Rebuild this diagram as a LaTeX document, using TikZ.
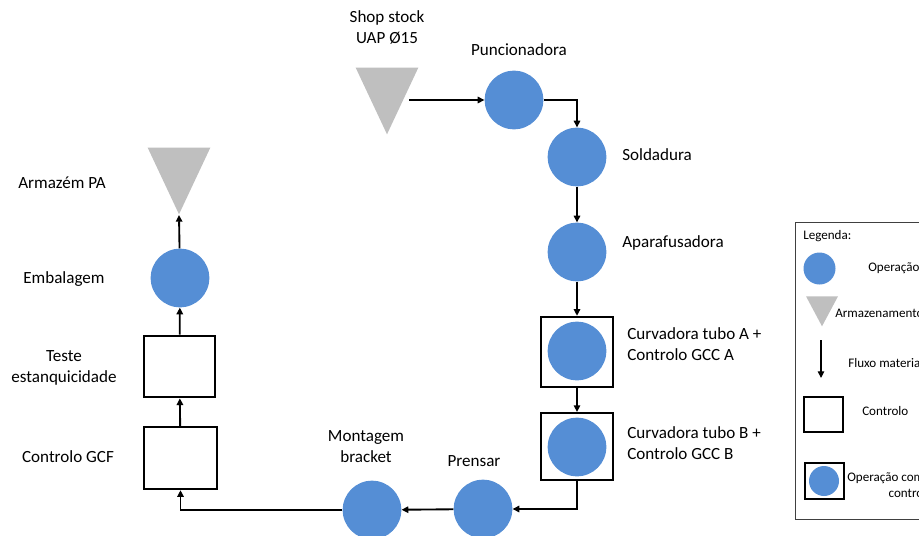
\documentclass[tikz,border=0pt]{standalone}
\usepackage{fontspec}
\setmainfont{Carlito}
\usetikzlibrary{arrows.meta,shapes.geometric}

\definecolor{opblue}{HTML}{558ED5}
\definecolor{stockgray}{HTML}{BFBFBF}

\begin{document}
\begin{tikzpicture}[x=0.75pt, y=-0.75pt,
        opnode/.style={circle, fill=opblue, minimum size=44pt, inner sep=0pt},
        ctrlbox/.style={draw, rectangle, line width=1.8pt, minimum width=54pt, minimum height=47pt, inner sep=0pt},
        stocknode/.style={isosceles triangle, isosceles triangle stretches, shape border rotate=-90, fill=stockgray, minimum width=47pt, minimum height=50pt, inner sep=0pt, anchor=apex},
        arrow/.style={-{Triangle[length=5pt,width=4.8pt]}, line width=1.4pt},
        lbl/.style={font=\fontsize{12.8}{15.75}\selectfont, align=center, inner sep=0pt},
        legtext/.style={font=\fontsize{9.8}{12}\selectfont, align=left, inner sep=0pt, anchor=west}
    ]
    \useasboundingbox (0,0) rectangle (919,535);
    \clip (0,0) rectangle (919,535);

    % --- Top: stock and first operations ---
    \node[stocknode] (shop) at (387,135) {};
    \node[opnode] (punc) at (514,100) {};
    \node[opnode] (sold) at (577,157) {};
    \node[opnode] (apara) at (577,252) {};

    % --- Right: bending with control ---
    \node[ctrlbox, minimum width=54pt, minimum height=52.5pt] (curvA) at (577,352) {};
    \node[opnode] (curvAop) at (577,351) {};
    \node[ctrlbox, minimum width=54pt, minimum height=50pt] (curvB) at (577,446.5) {};
    \node[opnode] (curvBop) at (577,447) {};

    % --- Bottom: pressing and assembly ---
    \node[opnode] (prensar) at (483,509) {};
    \node[opnode] (mont) at (372,510) {};

    % --- Left: controls, packing and warehouse ---
    \node[ctrlbox, minimum width=55pt, minimum height=46.5pt] (gcf) at (180.5,458) {};
    \node[ctrlbox, minimum width=53pt, minimum height=46pt] (teste) at (179.5,366.5) {};
    \node[opnode] (emb) at (180,278) {};
    \node[stocknode] (armazem) at (179,215) {};

    % --- Labels ---
    \node[lbl] (shoplbl) at (387,27) {Shop stock\\UAP Ø15};
    \node[lbl] (punclbl) at (519,50) {Puncionadora};
    \node[lbl, anchor=west] (soldlbl) at (622,155) {Soldadura};
    \node[lbl, anchor=west] (aparalbl) at (622,243) {Aparafusadora};
    \node[lbl, anchor=west, align=left] (curvAlbl) at (627,344) {Curvadora tubo A +\\Controlo GCC A};
    \node[lbl, anchor=west, align=left] (curvBlbl) at (627,443) {Curvadora tubo B +\\Controlo GCC B};
    \node[lbl] (prensarlbl) at (474,461) {Prensar};
    \node[lbl] (montlbl) at (366,447) {Montagem\\bracket};
    \node[lbl] (armazemlbl) at (62,183) {Armazém PA};
    \node[lbl] (emblbl) at (64,279) {Embalagem};
    \node[lbl] (testelbl) at (64,368) {Teste\\estanquicidade};
    \node[lbl] (gcflbl) at (68,457) {Controlo GCF};

    % --- ARROWS ---
    \draw[arrow] (shop.east |- punc.west) -- (punc.west);
    \draw[arrow] (punc) -| (sold);
    \draw[arrow] (sold) -- (apara);
    \draw[arrow] (apara) -- (curvA);
    \draw[arrow] (curvA) -- (curvB);
    \draw[arrow] (curvB) |- (prensar);
    \draw[arrow] (prensar) -- (mont);
    \draw[arrow] (mont) -| (gcf);
    \draw[arrow] (gcf) -- (teste);
    \draw[arrow] (teste) -- (emb);
    \draw[arrow] (emb) -- (armazem.apex);

    % --- Legend ---
    \node[draw=black!75, line width=0.6pt, rectangle, minimum width=110pt, minimum height=223pt, anchor=north west] (legend) at (795,222) {};
    \node[legtext] (leghead) at (803,236) {Legenda:};
    \node[opnode, minimum size=24pt] (legop) at (819.5,268.5) {};
    \node[legtext] (legoplbl) at (868,268) {Operação};
    \node[stocknode, minimum width=24pt, minimum height=22.5pt] (legstock) at (822,327) {};
    \node[legtext] (legstocklbl) at (835,313) {Armazenamento};
    \coordinate (legflowA) at (821,340);
    \coordinate (legflowB) at (821,378);
    \draw[arrow, line width=0.9pt] (legflowA) -- (legflowB);
    \node[legtext] (legflowlbl) at (848,363) {Fluxo material};
    \node[ctrlbox, line width=1.3pt, minimum width=29.5pt, minimum height=26.5pt] (legctrl) at (823.5,414.5) {};
    \node[legtext] (legctrllbl) at (862,411) {Controlo};
    \node[ctrlbox, line width=1.3pt, minimum width=29.5pt, minimum height=27pt] (legopctrl) at (824.5,481) {};
    \node[opnode, minimum size=22.5pt] (legopctrlop) at (824,481) {};
    \node[legtext] (legopctrllbl) at (847,485) {Operação com\\\hspace*{31pt}controlo};

\end{tikzpicture}
\end{document}
